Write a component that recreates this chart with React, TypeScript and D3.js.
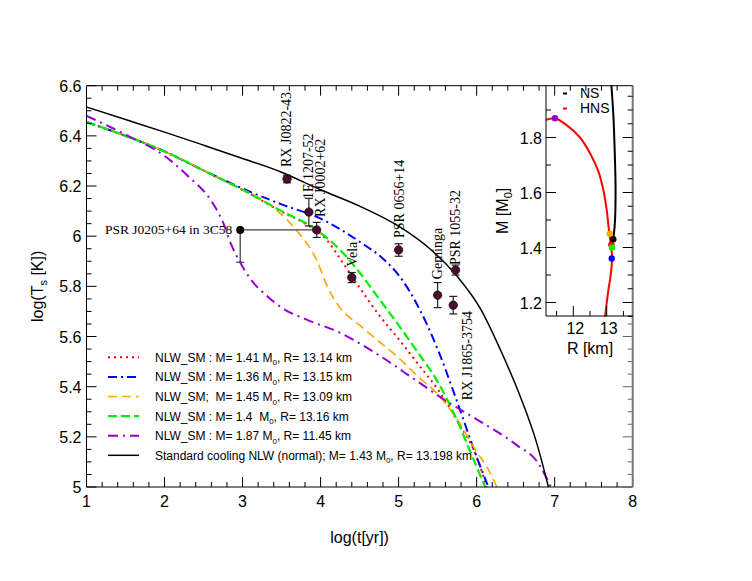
import * as d3 from 'd3';

// cooling curves: [log t (yr), log Ts (K)]
const curveStandard: [number, number][] = [
  [1.0, 6.515], [1.5, 6.465], [2.0, 6.415], [2.5, 6.363], [3.0, 6.31], [3.5, 6.255],
  [4.0, 6.185], [4.5, 6.12], [5.0, 6.04], [5.4, 5.95], [5.75, 5.84], [6.05, 5.71],
  [6.3, 5.55], [6.56, 5.36], [6.77, 5.175], [6.92, 5.0],
];
const curveRed: [number, number][] = [
  [1.0, 6.455], [1.5, 6.4], [2.0, 6.338], [2.5, 6.262], [3.0, 6.185], [3.5, 6.098],
  [3.8, 6.05], [4.08, 5.985], [4.25, 5.91], [4.5, 5.795], [4.75, 5.685], [5.0, 5.59],
  [5.25, 5.49], [5.5, 5.39], [5.75, 5.265], [6.0, 5.12], [6.13, 5.0],
];
const curveBlue: [number, number][] = [
  [1.0, 6.455], [1.5, 6.4], [2.0, 6.338], [2.5, 6.262], [3.0, 6.19], [3.5, 6.127],
  [4.0, 6.07], [4.5, 5.978], [4.8, 5.91], [5.0, 5.845], [5.25, 5.72], [5.5, 5.55],
  [5.75, 5.34], [6.0, 5.12], [6.15, 5.0],
];
const curveOrange: [number, number][] = [
  [1.0, 6.455], [1.5, 6.4], [2.0, 6.338], [2.5, 6.262], [2.9, 6.2], [3.2, 6.155],
  [3.45, 6.1], [3.7, 6.02], [3.95, 5.905], [4.1, 5.79], [4.25, 5.715], [4.5, 5.645],
  [4.75, 5.58], [5.0, 5.515], [5.25, 5.44], [5.5, 5.37], [5.75, 5.27], [6.0, 5.14],
  [6.13, 5.08], [6.26, 5.0],
];
const curveGreen: [number, number][] = [
  [1.0, 6.455], [1.5, 6.4], [2.0, 6.338], [2.5, 6.262], [3.0, 6.185], [3.5, 6.1],
  [3.95, 6.025], [4.25, 5.945], [4.5, 5.855], [4.75, 5.75], [5.0, 5.645], [5.25, 5.535],
  [5.5, 5.42], [5.75, 5.265], [6.0, 5.08], [6.11, 5.0],
];
const curvePurple: [number, number][] = [
  [1.0, 6.48], [1.5, 6.405], [2.0, 6.32], [2.3, 6.24], [2.6, 6.14], [2.75, 6.055],
  [2.85, 5.97], [2.97, 5.895], [3.1, 5.83], [3.3, 5.765], [3.5, 5.715], [3.8, 5.67],
  [4.25, 5.615], [4.7, 5.535], [5.2, 5.43], [5.6, 5.345], [6.0, 5.27], [6.5, 5.17],
  [6.8, 5.09], [6.95, 5.0],
];

// observed sources
const obsNames = ['RX J0822-43', '1E 1207-52', 'RX J0002+62', 'Vela', 'PSR 0656+14', 'Geminga', 'PSR 1055-32', 'RX J1865-3754'];
const obsLogAge = [3.57, 3.85, 3.95, 4.4, 5.0, 5.5, 5.73, 5.7];
const obsLogTemp = [6.228, 6.096, 6.025, 5.835, 5.945, 5.765, 5.865, 5.725];
const obsErr = [0.015, 0.055, 0.03, 0.02, 0.025, 0.05, 0.02, 0.035];

// upper-limit source
const limitName = 'PSR J0205+64 in 3C58';
const limitPoint: [number, number] = [2.97, 6.025];
const limitAgeMax = 3.95;
const limitTempMin = 5.896;

// mass-radius inset: [R km, M Msun]
const hnsCurve: [number, number][] = [
  [11.18, 1.864], [11.45, 1.87], [11.8, 1.845], [12.2, 1.8], [12.5, 1.743], [12.75, 1.677],
  [12.9, 1.609], [13.0, 1.536], [13.07, 1.46], [13.13, 1.405], [13.16, 1.365],
  [13.12, 1.3], [13.05, 1.245], [12.95, 1.148],
];
const nsCurve: [number, number][] = [
  [13.14, 1.99], [13.2, 1.88], [13.24, 1.75], [13.265, 1.62], [13.25, 1.5], [13.2, 1.43],
];
const starMasses = [1.41, 1.36, 1.45, 1.4, 1.87, 1.43];
const starRadii = [13.14, 13.15, 13.09, 13.16, 11.45, 13.198];

const legendLabels = [
  ['NLW_SM : M= 1.41 M', ', R= 13.14 km'],
  ['NLW_SM : M= 1.36 M', ', R= 13.15 km'],
  ['NLW_SM;  M= 1.45 M', ', R= 13.09 km'],
  ['NLW_SM : M= 1.4  M', ', R= 13.16 km'],
  ['NLW_SM : M= 1.87 M', ', R= 11.45 km'],
  ['Standard cooling NLW (normal); M= 1.43 M', ', R= 13.198 km'],
];

const xTicks = [1, 2, 3, 4, 5, 6, 7, 8];
const yTicks = [5, 5.2, 5.4, 5.6, 5.8, 6, 6.2, 6.4, 6.6];
const insetXTicks = [12, 13];
const insetYTicks = [1.2, 1.4, 1.6, 1.8];

const styles = [
  { color: '#ff0000', dash: '2 4', width: 2 },
  { color: '#0000ff', dash: '9 4 2 4', width: 2 },
  { color: '#ffa500', dash: '9 5', width: 1.6 },
  { color: '#00ee00', dash: '9 4', width: 2.2 },
  { color: '#9400d3', dash: '10 5 2 5', width: 2 },
  { color: '#000000', dash: 'none', width: 1.5 },
];
const curves = [curveRed, curveBlue, curveOrange, curveGreen, curvePurple, curveStandard];

// label placement relative to each point (px)
const labelOffsets = [[4, -12], [4, -13], [8, -13], [5, -11], [5, -12], [4, -16], [4, -5], [19, 95]];

const SANS = 'Liberation Sans, Arial, sans-serif';
const SERIF = 'Liberation Serif, Times New Roman, serif';

export default function App() {
  const L = 86.5, R = 632.7, T = 85.7, B = 487;
  const x = d3.scaleLinear().domain([1, 8]).range([L, R]);
  const y = d3.scaleLinear().domain([5, 6.6]).range([B, T]);

  const line = d3.line<[number, number]>().x((d) => x(d[0])).y((d) => y(d[1])).curve(d3.curveMonotoneX);

  const iL = 546, iB = 316;
  const ix = d3.scaleLinear().domain([12, 13]).range([573.3, 606.7]);
  const iy = d3.scaleLinear().domain([1.2, 1.8]).range([302.5, 137.5]);
  const iline = d3.line<[number, number]>().x((d) => ix(d[0])).y((d) => iy(d[1])).curve(d3.curveCatmullRom);

  const xMinor = d3.range(1, 8.001, 0.2);
  const yMinor = d3.range(5, 6.601, 0.05);
  const isMajor = (v: number, step: number) => Math.abs(v / step - Math.round(v / step)) < 1e-6;

  const insetYLeft = d3.range(1.2, 1.95, 0.1);
  const insetYRight = d3.range(1.15, 1.99, 0.05);
  const insetXMinor = d3.range(11.5, 13.6, 0.5);

  return (
    <svg width={752} height={581} style={{ position: 'absolute', left: 0, top: 0, background: '#fff' }}>
      {/* curves */}
      {curves.map((c, i) => (
        <path key={i} d={line(c) || ''} fill="none" stroke={styles[i].color}
          strokeWidth={styles[i].width} strokeDasharray={styles[i].dash} />
      ))}

      {/* upper limit source */}
      <g stroke="#444" strokeWidth={1.3}>
        <line x1={x(limitPoint[0])} x2={x(limitAgeMax)} y1={y(limitPoint[1])} y2={y(limitPoint[1])} />
        <line x1={x(limitPoint[0])} x2={x(limitPoint[0])} y1={y(limitPoint[1])} y2={y(limitTempMin)} />
        <line x1={x(limitPoint[0]) - 4} x2={x(limitPoint[0]) + 4} y1={y(limitTempMin)} y2={y(limitTempMin)} />
      </g>
      <circle cx={x(limitPoint[0])} cy={y(limitPoint[1])} r={4} fill="#000" />
      <text x={x(limitPoint[0]) - 8} y={y(limitPoint[1]) + 4.5} textAnchor="end" fontFamily={SERIF} fontSize={13.5}>
        {limitName}
      </text>

      {/* observations */}
      {obsNames.map((n, i) => {
        const px = x(obsLogAge[i]);
        const py = y(obsLogTemp[i]);
        const top = y(obsLogTemp[i] + obsErr[i]);
        const bot = y(obsLogTemp[i] - obsErr[i]);
        return (
          <g key={n}>
            <g stroke="#222" strokeWidth={1.2}>
              <line x1={px} x2={px} y1={top} y2={bot} />
              <line x1={px - 4} x2={px + 4} y1={top} y2={top} />
              <line x1={px - 4} x2={px + 4} y1={bot} y2={bot} />
            </g>
            <circle cx={px} cy={py} r={4.2} fill="#4d0a33" stroke="#111" strokeWidth={0.8} />
            <text transform={`translate(${px + labelOffsets[i][0]},${py + labelOffsets[i][1]}) rotate(-90)`}
              fontFamily={SERIF} fontSize={14}>{n}</text>
          </g>
        );
      })}

      {/* legend */}
      {legendLabels.map((lab, i) => {
        const ly = 357.3 + i * 19.6;
        return (
          <g key={i}>
            <line x1={108} x2={139} y1={ly} y2={ly} stroke={styles[i].color}
              strokeWidth={styles[i].width} strokeDasharray={styles[i].dash} />
            <text x={155} y={ly + 4.5} fontFamily={SANS} fontSize={12} style={{ whiteSpace: 'pre' }}>
              {lab[0]}<tspan dy={3.5} fontSize={8}>0</tspan><tspan dy={-3.5}>{lab[1]}</tspan>
            </text>
          </g>
        );
      })}

      {/* main axes frame and ticks */}
      <g stroke="#000" strokeWidth={1}>
        <line x1={L} x2={R} y1={B} y2={B} />
        <line x1={L} x2={R} y1={T} y2={T} />
        <line x1={L} x2={L} y1={T} y2={B} />
        {xMinor.map((v) => {
          const len = isMajor(v, 1) ? 10 : 5;
          return (
            <g key={`x${v}`}>
              <line x1={x(v)} x2={x(v)} y1={B} y2={B - len} />
              <line x1={x(v)} x2={x(v)} y1={T} y2={T + len} />
            </g>
          );
        })}
        {yMinor.map((v) => {
          const len = isMajor(v, 0.2) ? 10 : 5;
          return (
            <g key={`y${v}`}>
              <line x1={L} x2={L + len} y1={y(v)} y2={y(v)} />
              {y(v) > iB + 2 && <line x1={R} x2={R - len} y1={y(v)} y2={y(v)} stroke="#666" />}
            </g>
          );
        })}
      </g>
      <line x1={R} x2={R} y1={T} y2={B} stroke="#777" strokeWidth={2} />

      {xTicks.map((v) => (
        <text key={v} x={x(v)} y={B + 20} textAnchor="middle" fontFamily={SANS} fontSize={16}>{v}</text>
      ))}
      {yTicks.map((v) => (
        <text key={v} x={L - 5} y={y(v) + 6} textAnchor="end" fontFamily={SANS} fontSize={16}>{+v.toFixed(1)}</text>
      ))}
      <text x={(L + R) / 2} y={543} textAnchor="middle" fontFamily={SANS} fontSize={16}>log(t[yr])</text>
      <text transform={`translate(43,${(T + B) / 2}) rotate(-90)`} textAnchor="middle" fontFamily={SANS} fontSize={16}>
        log(T<tspan dy={4} fontSize={11}>s</tspan><tspan dy={-4}> [K])</tspan>
      </text>

      {/* inset */}
      <g>
        <path d={iline(hnsCurve) || ''} fill="none" stroke="#ff0000" strokeWidth={2} />
        <path d={iline(nsCurve) || ''} fill="none" stroke="#000" strokeWidth={2} />
        {starMasses.map((m, i) => (
          <circle key={i} cx={ix(starRadii[i])} cy={iy(m)} r={3.2} fill={styles[i].color} />
        ))}
        <g stroke="#000" strokeWidth={1}>
          <line x1={iL} x2={iL} y1={T} y2={iB} />
          <line x1={iL} x2={R} y1={iB} y2={iB} />
          {insetYLeft.map((v) => (
            <line key={`l${v}`} x1={iL} x2={iL + (isMajor(v, 0.2) ? 10 : 5)} y1={iy(v)} y2={iy(v)} />
          ))}
          {insetYRight.map((v) => (
            <line key={`r${v}`} x1={R} x2={R - (isMajor(v, 0.2) ? 10 : 5)} y1={iy(v)} y2={iy(v)} />
          ))}
          {insetXMinor.map((v) => (
            <line key={`b${v}`} x1={ix(v)} x2={ix(v)} y1={iB} y2={iB - (isMajor(v, 1) ? 10 : 5)} />
          ))}
        </g>
        {insetXTicks.map((v) => (
          <text key={v} x={ix(v) + 2} y={iB + 18} textAnchor="middle" fontFamily={SANS} fontSize={16}>{v}</text>
        ))}
        {insetYTicks.map((v) => (
          <text key={v} x={iL - 4} y={iy(v) + 6} textAnchor="end" fontFamily={SANS} fontSize={16}>{v.toFixed(1)}</text>
        ))}
        <text x={590} y={354} textAnchor="middle" fontFamily={SANS} fontSize={16}>R [km]</text>
        <text transform={`translate(508,${(T + iB) / 2 + 10}) rotate(-90)`} textAnchor="middle" fontFamily={SANS} fontSize={16}>
          M [M<tspan dy={4} fontSize={11}>0</tspan><tspan dy={-4}>]</tspan>
        </text>
        <line x1={563} x2={567} y1={93.5} y2={93.5} stroke="#000" strokeWidth={2} />
        <text x={580} y={98} fontFamily={SANS} fontSize={14}>NS</text>
        <line x1={563} x2={567} y1={108.5} y2={108.5} stroke="#ff0000" strokeWidth={2} />
        <text x={580} y={113} fontFamily={SANS} fontSize={14}>HNS</text>
      </g>
    </svg>
  );
}
